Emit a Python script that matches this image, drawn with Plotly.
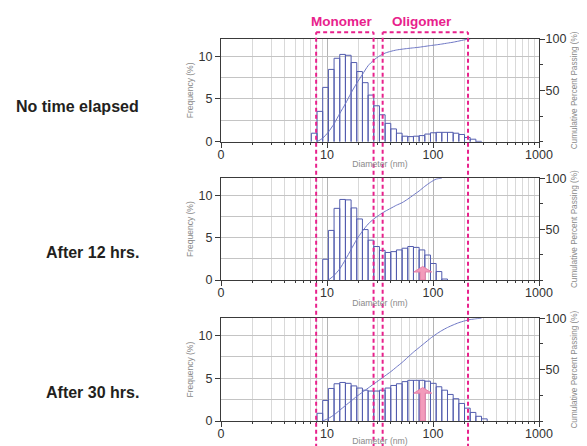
import math
import plotly.graph_objects as go

# ---------------- data ----------------
# diameter bin edges (nm), log-spaced instrument bins
bin_edges_nm = [7.12, 8.06, 9.11, 10.31, 11.66, 13.19, 14.92, 16.88, 19.09, 21.59,
                24.42, 27.62, 31.24, 35.34, 39.97, 45.21, 51.13, 57.83, 65.41, 73.99,
                83.69, 94.66, 107.1, 121.1, 137.0, 155.0, 175.3, 198.3, 224.3, 253.7,
                286.9, 324.5]

# frequency (%) per bin
freq_no_time = [1.0, 3.55, 6.35, 8.45, 9.75, 10.2, 10.1, 9.25, 8.2, 6.9,
                5.45, 4.2, 3.15, 2.15, 1.5, 1.0, 0.65, 0.6, 0.65, 0.72,
                0.9, 1.05, 1.1, 1.1, 1.1, 1.0, 0.85, 0.5, 0.3, 0.05, 0]
freq_12h = [0, 0, 2.45, 5.85, 8.45, 9.5, 9.45, 8.5, 7.2, 5.95,
            4.7, 3.95, 3.5, 3.25, 3.35, 3.55, 3.75, 3.95, 3.85, 3.55,
            2.95, 1.95, 1.0, 0.12, 0, 0, 0, 0, 0, 0, 0]
freq_30h = [0, 0.9, 2.4, 3.8, 4.35, 4.5, 4.4, 4.1, 3.85, 3.6,
            3.5, 3.5, 3.6, 3.85, 4.15, 4.35, 4.6, 4.75, 4.75, 4.75,
            4.65, 4.4, 4.0, 3.6, 3.1, 2.6, 2.05, 1.5, 1.0, 0.55, 0.25]

# cumulative percent passing (%) at each bin edge (None = not drawn)
cum_no_time = [None, 0, 3.5, 9.5, 17.5, 27.5, 37, 47.5, 57, 65.5,
               74, 79.5, 83.5, 86.3, 88, 89.3, 90.1, 90.8, 91.4, 92,
               92.8, 93.6, 94.3, 95.1, 96, 96.9, 98, 99.2, 100, None,
               None, None]
cum_12h = [None, None, None, 0, 4.5, 11, 20, 30, 40, 48,
           55, 60, 64, 67.5, 70.5, 73.5, 76, 79.5, 83.5, 87.5,
           92, 96, 99.2, 100, None, None, None, None, None, None,
           None, None]
cum_30h = [None, None, 0, 2.5, 6, 10.5, 15, 19.5, 24, 28,
           32, 36, 40, 44, 48, 52.5, 57, 62, 67, 71.5,
           76, 80.5, 84.5, 88, 91, 93.5, 95.7, 97.4, 98.7, 99.5,
           100, None]

row_labels = ["No time elapsed", "After 12 hrs.", "After 30 hrs."]
x_tick_vals = [1, 10, 100, 1000]
x_tick_text = ["0", "10", "100", "1000"]
y_tick_vals = [0, 5, 10]
cum_tick_vals = [50, 100]

boundaries_nm = [7.9, 27.5, 33.5, 214]          # Monomer / Oligomer region limits
region_labels = ["Monomer", "Oligomer"]

arrow_nm = [None, 80, 80]       # pink arrows (panels 2 and 3)
arrow_tip = [None, 1.6, 3.9]

# ---------------- styles ----------------
FONT = "Liberation Sans, Arial, Helvetica, sans-serif"
BAR_COLOR = "#525cae"
CUM_COLOR = "#6d76c4"
MAGENTA = "#e8218c"
AXIS_COLOR = "#3a3a3a"
GRID_MAJOR = "#b4b4b4"
GRID_MINOR = "#d9d9d9"
ARROW_FILL = "#f29bbb"
ARROW_LINE = "#e57fa6"

domains = [[0.731, 1.0], [0.369, 0.6355], [0.0, 0.269]]
freqs = [freq_no_time, freq_12h, freq_30h]
cums = [cum_no_time, cum_12h, cum_30h]

minor_x = [m * 10 ** e for e in range(3) for m in range(2, 10)]

fig = go.Figure()
layout = {}

for i in range(3):
    n = "" if i == 0 else str(i + 1)
    xname, yname = "x" + n, "y" + n
    yr = "y" + str(i + 4)

    # histogram bars (outlined boxes)
    bx, by = [], []
    for k, h in enumerate(freqs[i]):
        if h and h > 0:
            lo, hi = bin_edges_nm[k], bin_edges_nm[k + 1]
            bx += [lo, lo, hi, hi, None]
            by += [0, h, h, 0, None]
    fig.add_trace(go.Scatter(x=bx, y=by, mode="lines", xaxis=xname, yaxis=yname,
                             line=dict(color=BAR_COLOR, width=1), showlegend=False,
                             hoverinfo="skip"))

    # cumulative curve
    cx = [bin_edges_nm[k] for k, v in enumerate(cums[i]) if v is not None]
    cy = [v for v in cums[i] if v is not None]
    fig.add_trace(go.Scatter(x=cx, y=cy, mode="lines", xaxis=xname, yaxis=yr,
                             line=dict(color=CUM_COLOR, width=1, shape="spline",
                                       smoothing=0.6),
                             showlegend=False))

    layout["xaxis" + n] = dict(
        type="log", range=[0, 3], domain=[0, 1], anchor=yname,
        tickmode="array", tickvals=x_tick_vals, ticktext=x_tick_text,
        ticks="outside", ticklen=5, tickcolor=AXIS_COLOR, ticklabelstandoff=-4,
        showgrid=True, gridcolor=GRID_MAJOR, gridwidth=1,
        minor=dict(tickvals=minor_x, showgrid=True, gridcolor=GRID_MINOR,
                   ticks="outside", ticklen=2, tickcolor=AXIS_COLOR),
        showline=True, linecolor=AXIS_COLOR, linewidth=1, mirror=True,
        tickfont=dict(family=FONT, size=12.5, color="#333333"),
        title=dict(text="Diameter (nm)", standoff=0,
                   font=dict(family=FONT, size=8.7, color="#8a8a8a")),
        automargin=False, zeroline=False, fixedrange=True,
    )
    layout["yaxis" + n] = dict(
        domain=domains[i], anchor=xname, range=[0, 12],
        tickmode="array", tickvals=y_tick_vals,
        ticks="outside", ticklen=5, tickcolor=AXIS_COLOR,
        showgrid=True, gridcolor="#c4c4c4",
        minor=dict(dtick=2.5, tick0=0, showgrid=True, gridcolor="#c4c4c4"),
        showline=True, linecolor=AXIS_COLOR, linewidth=1, mirror=True,
        zeroline=False,
        tickfont=dict(family=FONT, size=12.5, color="#333333"),
        title=dict(text="Frequency (%)", standoff=3,
                   font=dict(family=FONT, size=8.5, color="#8a8a8a")),
        automargin=False, fixedrange=True,
    )
    layout["yaxis" + str(i + 4)] = dict(
        domain=domains[i], anchor=xname, overlaying=yname, side="right",
        range=[0, 100], tickmode="array", tickvals=cum_tick_vals,
        ticks="outside", ticklen=5, tickcolor=AXIS_COLOR, ticklabelstandoff=-2,
        minor=dict(tickvals=[0, 25, 75], ticks="outside", ticklen=3,
                   tickcolor=AXIS_COLOR, showgrid=False),
        showgrid=False, zeroline=False,
        showline=True, linecolor=AXIS_COLOR, linewidth=1,
        tickfont=dict(family=FONT, size=12.5, color="#333333"),
        title=dict(text="Cumulative Percent Passing (%)", standoff=5,
                   font=dict(family=FONT, size=8.2, color="#8a8a8a")),
        automargin=False, fixedrange=True,
    )

shapes = []
# dashed region boundaries across all panels
for b in boundaries_nm:
    shapes.append(dict(type="line", xref="x", yref="paper", x0=b, x1=b,
                       y0=-0.07, y1=1.0175,
                       line=dict(color=MAGENTA, width=2, dash="4px,3px")))
for j in range(2):
    shapes.append(dict(type="line", xref="x", yref="paper",
                       x0=boundaries_nm[2 * j], x1=boundaries_nm[2 * j + 1],
                       y0=1.0175, y1=1.0175,
                       line=dict(color=MAGENTA, width=2, dash="4px,3px")))

# pink arrows
for i in range(3):
    if arrow_nm[i] is None:
        continue
    n = str(i + 1)
    tip = arrow_tip[i]
    base = tip - 0.65
    path = (f"M-2.5,0 L-2.5,{base} L-9,{base} L0,{tip} "
            f"L9,{base} L2.5,{base} L2.5,0 Z")
    shapes.append(dict(type="path", xref="x" + n, yref="y" + n,
                       xsizemode="pixel", xanchor=arrow_nm[i], path=path,
                       fillcolor=ARROW_FILL, line=dict(color=ARROW_LINE, width=1),
                       layer="above"))

annotations = []
for j, lab in enumerate(region_labels):
    cen = math.log10(math.sqrt(boundaries_nm[2 * j] * boundaries_nm[2 * j + 1]))
    annotations.append(dict(text=f"<b>{lab}</b>", x=cen, xref="x", y=1.047,
                            yref="paper", showarrow=False, xanchor="center",
                            yanchor="middle", xshift=-3,
                            font=dict(family=FONT, size=13.5, color=MAGENTA)))

row_y = [0.8246, 0.4398, 0.0733]
for lab, yy in zip(row_labels, row_y):
    annotations.append(dict(text=f"<b>{lab}</b>", x=-0.2508, xref="paper", y=yy,
                            yref="paper", showarrow=False, xanchor="right",
                            yanchor="middle",
                            font=dict(family=FONT, size=16, color="#231f20")))

# the page body keeps an 8px default margin, so the figure is 8px smaller
fig.update_layout(
    width=579, height=438,
    margin=dict(l=213, r=48, t=31, b=25),
    paper_bgcolor="white", plot_bgcolor="white",
    showlegend=False, shapes=shapes, annotations=annotations,
    **layout,
)

fig.write_html("out.html")
